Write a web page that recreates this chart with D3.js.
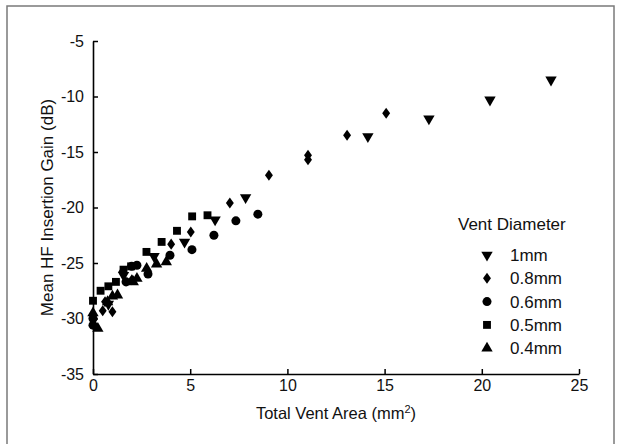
<!DOCTYPE html>
<html>
<head>
<meta charset="utf-8">
<script src="https://cdn.jsdelivr.net/npm/d3@7"></script>
<style>
  body { margin: 0; background: #fff; }
  svg text { font-family: "Liberation Sans", Arial, sans-serif; fill: #111; }
</style>
</head>
<body>
<div id="chart"></div>
<script>
// data (x = total vent area mm², y = gain dB)
const x1mm = [0.79, 1.57, 3.14, 4.71, 6.28, 7.85, 14.14, 17.28, 20.42, 23.56];
const y1mm = [-28.7, -26.1, -24.4, -23.1, -21.1, -19.1, -13.6, -12.0, -10.3, -8.5];

const x08mm = [0.5, 0.62, 1.0, 1.5, 2.0, 4.02, 5.03, 7.04, 9.05, 11.06, 11.06, 13.07, 15.08];
const y08mm = [-29.3, -28.5, -29.4, -25.8, -26.5, -23.3, -22.2, -19.6, -17.1, -15.3, -15.7, -13.5, -11.5];

const x06mm = [0, 0, 1.70, 1.99, 2.26, 2.83, 3.96, 5.09, 6.22, 7.35, 8.48];
const y06mm = [-30.6, -30.0, -26.7, -25.3, -25.2, -26.0, -24.3, -23.8, -22.5, -21.2, -20.6];

const x05mm = [0, 0.39, 0.79, 1.18, 1.57, 1.96, 2.75, 3.53, 4.32, 5.10, 5.89];
const y05mm = [-28.4, -27.5, -27.1, -26.7, -25.6, -25.3, -24.0, -23.1, -22.1, -20.8, -20.7];

const x04mm = [0, 0.25, 0.75, 1.0, 1.26, 2.07, 2.26, 2.76, 3.27, 3.77];
const y04mm = [-29.5, -30.9, -28.5, -28.0, -27.9, -26.7, -26.4, -25.5, -25.1, -24.9];

const seriesNames = ["1mm", "0.8mm", "0.6mm", "0.5mm", "0.4mm"];
const xTicks = [0, 5, 10, 15, 20, 25];
const yTicks = [-35, -30, -25, -20, -15, -10, -5];

const W = 619, H = 444;
const margin = { top: 41, right: 40, bottom: 70, left: 93 };
const width = W - margin.left - margin.right;
const height = H - margin.top - margin.bottom;

const svg = d3.select("#chart").append("svg")
  .attr("width", W)
  .attr("height", H);

svg.append("rect")
  .attr("x", 0).attr("y", 0).attr("width", W).attr("height", H)
  .attr("fill", "#fff");

// outer frame (bottom edge falls off the picture)
svg.append("rect")
  .attr("x", 7).attr("y", 6)
  .attr("width", 607).attr("height", 445)
  .attr("fill", "none")
  .attr("stroke", "#7a7a7a")
  .attr("stroke-width", 1.5);

const g = svg.append("g")
  .attr("transform", `translate(${margin.left},${margin.top})`);

const x = d3.scaleLinear().domain([0, 25]).range([0, width]);
const y = d3.scaleLinear().domain([-35, -5]).range([height, 0]);

// axes, ticks point inward, plain hyphen minus
const xAxis = g.append("g")
  .attr("transform", `translate(0,${height})`)
  .call(d3.axisBottom(x).tickValues(xTicks).tickFormat(d => String(d))
    .tickSizeInner(-5).tickSizeOuter(0).tickPadding(6));
const yAxis = g.append("g")
  .call(d3.axisLeft(y).tickValues(yTicks).tickFormat(d => String(d))
    .tickSizeInner(-5).tickSizeOuter(0).tickPadding(9));

[xAxis, yAxis].forEach(a => {
  a.select(".domain").attr("stroke", "#000").attr("stroke-width", 1.6);
  a.selectAll(".tick line").attr("stroke", "#000").attr("stroke-width", 1.5);
  a.selectAll(".tick text")
    .style("font-size", "16px")
    .style("font-family", "Liberation Sans, Arial, sans-serif")
    .attr("fill", "#111");
});

// axis titles
const xt = g.append("text")
  .attr("x", width / 2)
  .attr("y", height + 45)
  .attr("text-anchor", "middle")
  .style("font-size", "16.5px");
xt.append("tspan").text("Total Vent Area (mm");
xt.append("tspan").attr("dy", -6).style("font-size", "11px").text("2");
xt.append("tspan").attr("dy", 6).text(")");

g.append("text")
  .attr("transform", "rotate(-90)")
  .attr("x", -height / 2)
  .attr("y", -40)
  .attr("text-anchor", "middle")
  .style("font-size", "17px")
  .text("Mean HF Insertion Gain (dB)");

// a diamond a bit wider than d3's default one
const wideDiamond = {
  draw(ctx, size) {
    const h = Math.sqrt(size / 1.45);
    const w = h * 0.72;
    ctx.moveTo(0, -h);
    ctx.lineTo(w, 0);
    ctx.lineTo(0, h);
    ctx.lineTo(-w, 0);
    ctx.closePath();
  }
};

// marker shapes
const shapes = {
  "1mm":   { type: d3.symbolTriangle, size: 56, rot: 180 },
  "0.8mm": { type: wideDiamond,       size: 44, rot: 0 },
  "0.6mm": { type: d3.symbolCircle,   size: 64, rot: 0 },
  "0.5mm": { type: d3.symbolSquare,   size: 62, rot: 0 },
  "0.4mm": { type: d3.symbolTriangle, size: 56, rot: 0 }
};

const series = [
  { name: "1mm",   xs: x1mm,  ys: y1mm },
  { name: "0.8mm", xs: x08mm, ys: y08mm },
  { name: "0.6mm", xs: x06mm, ys: y06mm },
  { name: "0.5mm", xs: x05mm, ys: y05mm },
  { name: "0.4mm", xs: x04mm, ys: y04mm }
];

function symPath(name) {
  const s = shapes[name];
  return d3.symbol().type(s.type).size(s.size)();
}

// draw smaller series first so the big-vent points sit on top
series.slice().reverse().forEach(s => {
  const pts = s.xs.map((v, i) => ({ x: v, y: s.ys[i] }));
  g.selectAll(null)
    .data(pts)
    .enter()
    .append("path")
    .attr("d", symPath(s.name))
    .attr("transform", d => `translate(${x(d.x)},${y(d.y)}) rotate(${shapes[s.name].rot})`)
    .attr("fill", "#000");
});

// legend
const legend = svg.append("g").attr("transform", "translate(458,230)");
legend.append("text")
  .attr("x", 0).attr("y", 0)
  .style("font-size", "17px")
  .text("Vent Diameter");

seriesNames.forEach((name, i) => {
  const row = legend.append("g").attr("transform", `translate(0,${25 + i * 23.3})`);
  row.append("path")
    .attr("d", symPath(name))
    .attr("transform", `translate(29,0) rotate(${shapes[name].rot})`)
    .attr("fill", "#000");
  row.append("text")
    .attr("x", 52)
    .attr("y", 0)
    .attr("dy", "0.35em")
    .style("font-size", "17px")
    .text(name);
});
</script>
</body>
</html>
